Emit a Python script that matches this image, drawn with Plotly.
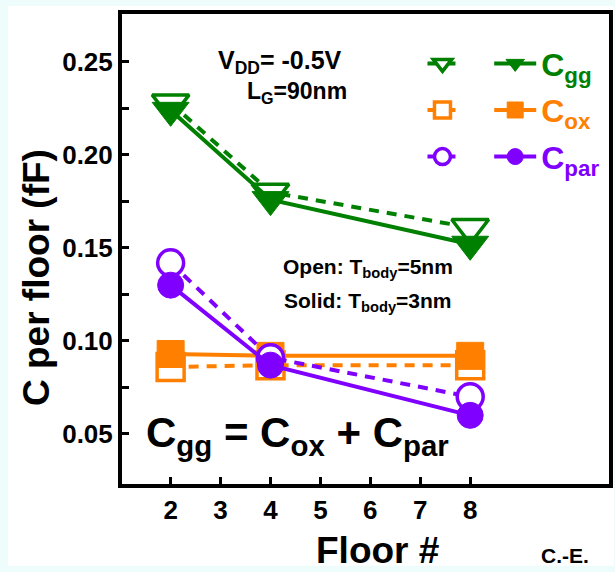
import plotly.graph_objects as go

# Floors and per-floor capacitances (fF)
floors = [2, 4, 8]
cgg_open = [0.228, 0.180, 0.161]    # T_body = 5 nm
cgg_solid = [0.224, 0.176, 0.152]   # T_body = 3 nm
cox_open = [0.086, 0.087, 0.087]
cox_solid = [0.093, 0.092, 0.092]
cpar_open = [0.142, 0.091, 0.070]
cpar_solid = [0.130, 0.087, 0.060]

y_ticks = [0.05, 0.075, 0.10, 0.125, 0.15, 0.175, 0.20, 0.225, 0.25]
y_ticktext = ["0.05", "", "0.10", "", "0.15", "", "0.20", "", "0.25"]
x_ticks = [2, 3, 4, 5, 6, 7, 8]

GREEN = "#008000"
ORANGE = "#ff8000"
PURPLE = "#8000ff"
FONT = "Liberation Sans, Arial, sans-serif"

fig = go.Figure()


def add_pair(values_open, values_solid, color, symbol, size, label, rank):
    fig.add_trace(go.Scatter(
        x=floors, y=values_open, mode="lines+markers",
        line=dict(color=color, width=4, dash="10px,8px"),
        marker=dict(symbol=symbol, size=size, color="white",
                    line=dict(color=color, width=3.5)),
        name=" ", legend="legend", legendrank=rank, legendgroup=label + "o",
    ))
    fig.add_trace(go.Scatter(
        x=floors, y=values_solid, mode="lines+markers",
        line=dict(color=color, width=4),
        marker=dict(symbol=symbol, size=size, color=color,
                    line=dict(color=color, width=1)),
        name=f"<b><span style='color:{color}'>{label}</span></b>",
        legend="legend2", legendrank=rank, legendgroup=label + "s",
    ))


add_pair(cox_open, cox_solid, ORANGE, "square", 27, "C<sub>ox</sub>", 2)
add_pair(cgg_open, cgg_solid, GREEN, "triangle-down", 32, "C<sub>gg</sub>", 1)
add_pair(cpar_open, cpar_solid, PURPLE, "circle", 26, "C<sub>par</sub>", 3)

legend_common = dict(
    bgcolor="rgba(0,0,0,0)", borderwidth=0,
    font=dict(family=FONT, size=32, color="black"),
    traceorder="grouped", tracegroupgap=2,
    itemsizing="trace",
    yanchor="top", y=0.953, xanchor="left",
)

# White panel on a pale cyan page
fig.add_shape(type="rect", xref="paper", yref="paper",
              x0=-0.234, x1=1.01, y0=-0.174, y1=1.017,
              fillcolor="white", line=dict(width=0), layer="below")

annotations = [
    dict(x=4.2, y=0.2502, text="<b>V<sub>DD</sub>= -0.5V</b>", size=25),
    dict(x=4.54, y=0.2335, text="<b>L<sub>G</sub>=90nm</b>", size=23),
    dict(x=5.95, y=0.1395, text="<b>Open: T<sub>body</sub>=5nm</b>", size=21),
    dict(x=5.95, y=0.1207, text="<b>Solid: T<sub>body</sub>=3nm</b>", size=21),
    dict(x=4.55, y=0.049, text="<b>C<sub>gg</sub> = C<sub>ox</sub> + C<sub>par</sub></b>", size=42),
]
for a in annotations:
    fig.add_annotation(x=a["x"], y=a["y"], xref="x", yref="y", text=a["text"],
                       showarrow=False, xanchor="center", yanchor="middle",
                       font=dict(family=FONT, size=a["size"], color="black"))

# Axis titles and credit
paper_texts = [
    dict(x=-0.177, y=0.44, text="<b>C per floor (fF)</b>", size=37, angle=-90),
    dict(x=0.525, y=-0.142, text="<b>Floor #</b>", size=37, angle=0),
    dict(x=0.91, y=-0.153, text="<b>C.-E.</b>", size=21, angle=0),
]
for t in paper_texts:
    fig.add_annotation(x=t["x"], y=t["y"], xref="paper", yref="paper", text=t["text"],
                       textangle=t["angle"], showarrow=False,
                       xanchor="center", yanchor="middle",
                       font=dict(family=FONT, size=t["size"], color="black"))

axis_common = dict(
    showline=True, linecolor="black", linewidth=4, mirror=True,
    ticks="inside", tickcolor="black", tickwidth=3, ticklen=7,
    showgrid=False, zeroline=False,
    tickfont=dict(family=FONT, size=26, color="black"),
)

fig.update_layout(
    width=615, height=572,
    margin=dict(l=122, r=2, t=14, b=88),
    paper_bgcolor="#effcfc", plot_bgcolor="white",
    showlegend=True,
    legend=dict(x=0.617, itemwidth=30, **legend_common),
    legend2=dict(x=0.754, itemwidth=42, **legend_common),
    xaxis=dict(range=[1.026, 10.78], tickvals=x_ticks,
               ticktext=[f"<b>{v}</b>" for v in x_ticks],
               **axis_common),
    yaxis=dict(range=[0.0231, 0.2758], tickvals=y_ticks,
               ticktext=[f"<b>{t}</b>" if t else "" for t in y_ticktext],
               **axis_common),
)

fig.write_html("out.html")
